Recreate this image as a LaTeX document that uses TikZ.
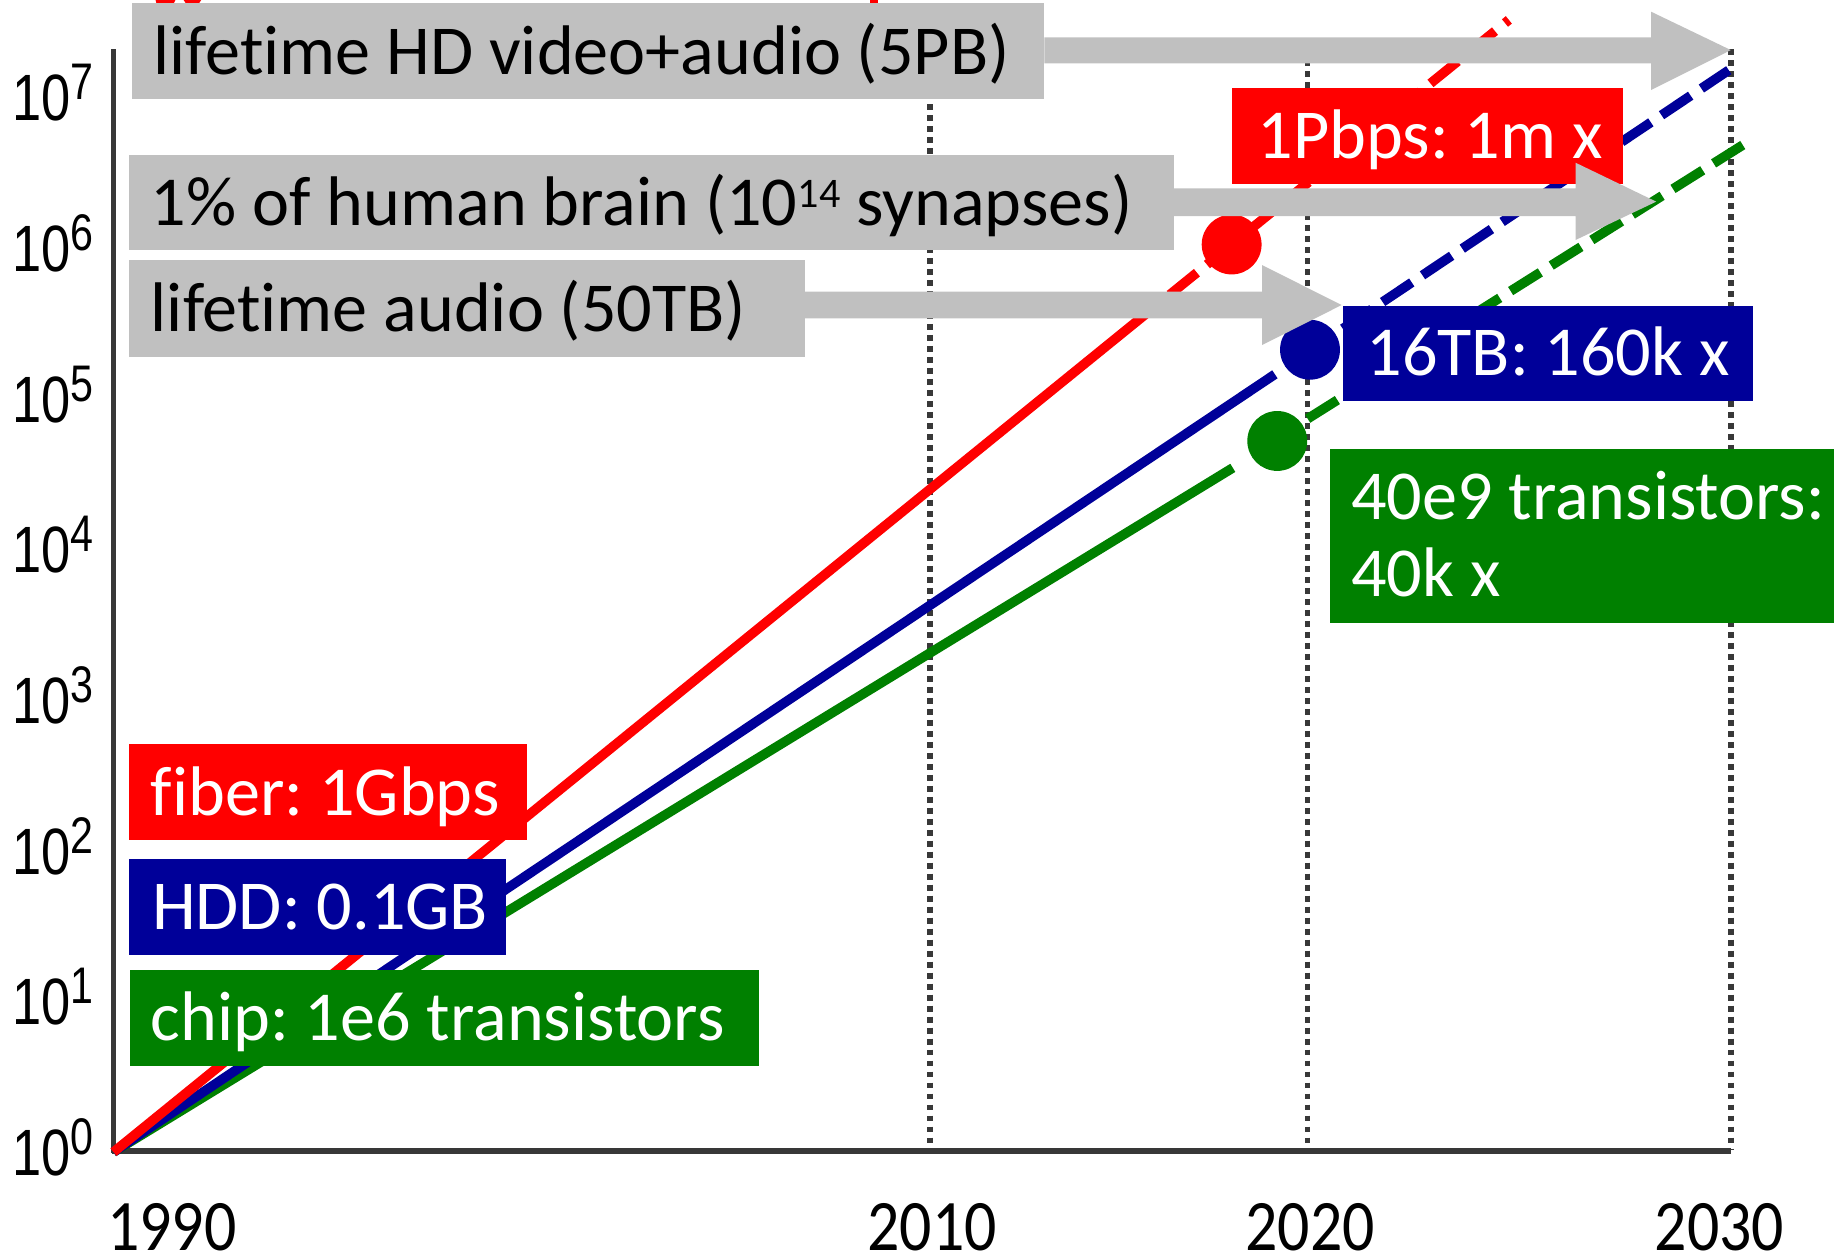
\documentclass[tikz,border=0pt]{standalone}
\usepackage{fontspec}
\setmainfont{Carlito}[Ligatures=NoCommon]
\newfontfamily\axisfont{Liberation Sans}
\frenchspacing
\definecolor{fiberred}{HTML}{FF0000}
\definecolor{hddblue}{HTML}{000099}
\definecolor{chipgreen}{HTML}{008000}
\definecolor{boxgray}{HTML}{C0C0C0}
\definecolor{axisgray}{HTML}{383838}
\tikzset{
  panel/.style={anchor=north west, inner sep=0pt, minimum height=41pt, fill=#1},
  word/.style={anchor=base west, inner sep=0pt, text=white,
    font=\fontsize{30pt}{36pt}\selectfont},
  darkword/.style={word, text=black},
  blockarrow/.style={fill=boxgray},
  trend/.style={line width=4.1pt, draw=#1},
  trenddash/.style={line width=4.1pt, draw=#1, dash pattern=on 15pt off 5.5pt},
  bubble/.style={circle, fill=#1, minimum size=25.6pt, inner sep=0pt},
  gridline/.style={draw=axisgray, line width=2.3pt, dash pattern=on 2.5pt off 2.2pt},
  ylab/.style={anchor=base west, inner sep=0pt},
  yearlab/.style={anchor=base, inner sep=0pt, text depth=0pt},
}
\newcommand{\ytick}[1]{\scalebox{0.8}[1]{\axisfont\fontsize{28pt}{30pt}\selectfont 10\raisebox{9pt}{\fontsize{22pt}{24pt}\selectfont #1}}}
\newcommand{\yearfont}[1]{\scalebox{0.88}[1]{\fontsize{31pt}{34pt}\selectfont #1}}
\begin{document}
\begin{tikzpicture}[x=0.5pt,y=-0.5pt]
\useasboundingbox (0,0) rectangle (1568,1076);

% fragments of red lettering cut by the top edge
\fill[fiberred] (133,0) -- (150,0) -- (148,4) .. controls (144,7) and (138,7) .. (134,4) -- cycle;
\fill[fiberred] (157,0) -- (172,0) -- (168,6) -- (161,6) -- cycle;
\fill[fiberred] (744,0) rectangle (751,5);

% year grid lines
\draw[gridline] (795,42) -- (795,983);
\draw[gridline] (1118,42) -- (1118,983);
\draw[gridline] (1480,42) -- (1480,983);

% axes
\draw[axisgray, line width=1.8pt] (97,42) -- (97,986);
\draw[axisgray, line width=2.5pt] (96,984) -- (1480,984);

% trend lines
\coordinate (o) at (97,985);
\coordinate (gEnd) at (1054,400);
\coordinate (gStart) at (1118,358);
\coordinate (gTop) at (1490,124);
\coordinate (bEnd) at (1090,320);
\coordinate (bStart) at (1148,281);
\coordinate (bTop) at (1478,60);
\coordinate (rEnd) at (995,256);
\coordinate (rStart) at (1000,252);
\coordinate (rTop) at (1290,17);

\draw[trend=chipgreen] (o) -- (gEnd);
\draw[trenddash=chipgreen] (gStart) -- (gTop);
\draw[trend=hddblue] (o) -- (bEnd);
\draw[trenddash=hddblue] (bStart) -- (bTop);
\draw[trend=fiberred] (o) -- (rEnd);
\draw[trenddash=fiberred] (rStart) -- (rTop);

\node[bubble=fiberred] (rdot) at (1053,209) {};
\node[bubble=hddblue] (bdot) at (1120,299) {};
\node[bubble=chipgreen] (gdot) at (1092,377) {};

% coloured labels
\node[panel=fiberred, minimum width=166.85pt] (pbps) at (1053.3,74.7) {};
\node[word] (pbpsT) at (1074.8,135.4) {1Pbps: 1m x};
\node[panel=hddblue, minimum width=175.5pt] (tb16) at (1147.5,260.8) {};
\node[word] (tb16T) at (1168,320.7) {16TB: 160k x};
\node[panel=chipgreen, minimum width=215.7pt, minimum height=74.55pt] (tr40) at (1136.6,383.3) {};
\node[word] (tr40a) at (1154.7,444) {40e9 transistors:};
\node[word] (tr40b) at (1154.7,509.6) {40k x};

\node[panel=fiberred, minimum width=170pt] (fiber) at (109.8,635.5) {};
\node[word] (fiberT) at (128.5,696.8) {fiber: 1Gbps};
\node[panel=hddblue, minimum width=161pt] (hdd) at (109.8,733.8) {};
\node[word] (hddT) at (129.6,794.5) {HDD: 0.1GB};
\node[panel=chipgreen, minimum width=269.2pt] (chip) at (110.5,829.3) {};
\node[word] (chipT) at (128.5,890) {chip: 1e6 transistors};

% grey comparison labels with block arrows
\node[panel=boxgray, minimum width=389.75pt] (hd) at (112.5,2.3) {};
\node[darkword] (hdT) at (131,64) {lifetime HD video+audio (5PB)};
\node[panel=boxgray, minimum width=446.75pt] (brain) at (109.5,131.7) {};
\node[darkword] (brainT) at (128.6,192.4) {1\% of human brain (10\raisebox{7.5pt}{\fontsize{18pt}{20pt}\selectfont 14} synapses)};
\node[panel=boxgray, minimum width=289pt, minimum height=41.45pt] (audio) at (109.5,221.5) {};
\node[darkword] (audioT) at (128.6,283.6) {lifetime audio (50TB)};

\coordinate (tipHD) at (1479.8,42.8);
\coordinate (tipBrain) at (1416,172.4);
\coordinate (tipAudio) at (1147,260.8);

\fill[blockarrow] (hd.east |- 0,31.9) -- (1411.6,31.9) -- (1411.6,10) -- (tipHD)
  -- (1411.6,77) -- (1411.6,54.1) -- (hd.east |- 0,54.1) -- cycle;
\fill[blockarrow] (brain.east |- 0,161) -- (1347,161) -- (1347,139.1) -- (tipBrain)
  -- (1347,205.2) -- (1347,184.7) -- (brain.east |- 0,184.7) -- cycle;
\fill[blockarrow] (audio.east |- 0,249.4) -- (1079,249.4) -- (1079,226.6) -- (tipAudio)
  -- (1079,295) -- (1079,272.2) -- (audio.east |- 0,272.2) -- cycle;

% axis labels
\foreach \k in {0,...,7}
  \node[ylab] (y\k) at (10,{985-128.8*\k+20}) {\ytick{\k}};

\node[yearlab] (t1990) at (146.8,1069) {\yearfont{1990}};
\node[yearlab] (t2010) at (797,1069) {\yearfont{2010}};
\node[yearlab] (t2020) at (1120,1069) {\yearfont{2020}};
\node[yearlab] (t2030) at (1470,1069) {\yearfont{2030}};
\end{tikzpicture}
\end{document}
